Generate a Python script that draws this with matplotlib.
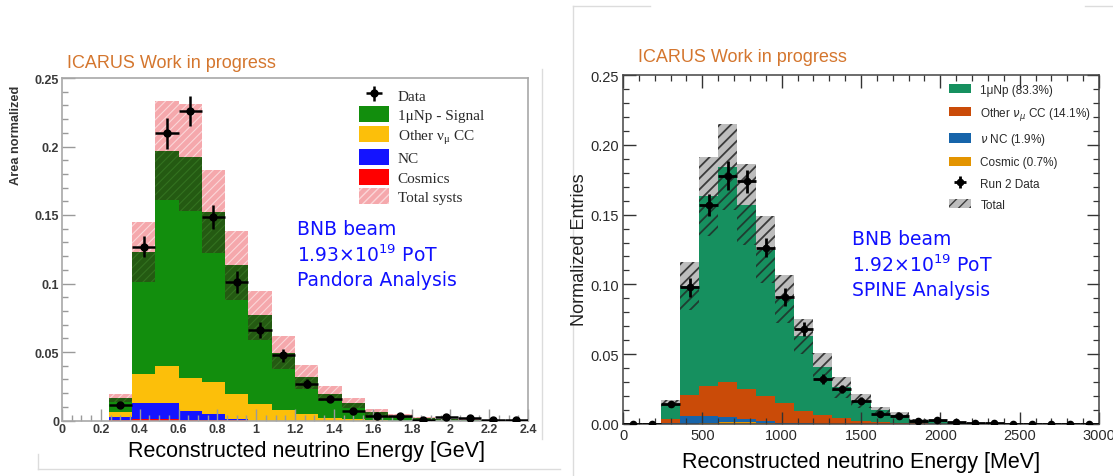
import numpy as np
import matplotlib
matplotlib.use("Agg")
import matplotlib.pyplot as plt
from matplotlib.patches import Patch
from matplotlib.lines import Line2D
from matplotlib.ticker import MultipleLocator, FixedLocator

# ---------------- data: left panel (Pandora, GeV) ----------------
edges_L = np.round(np.arange(0, 2.41, 0.12), 2)
cosmic_L = [0, 0, 0.0003, 0.0008, 0.0010, 0.0006, 0.0004, 0.0003, 0, 0,
            0, 0, 0, 0, 0, 0, 0, 0, 0, 0]
nc_L = [0, 0, 0.0024, 0.0122, 0.0120, 0.0062, 0.0040, 0.0009, 0, 0,
        0, 0, 0, 0, 0, 0, 0, 0, 0, 0]
othercc_L = [0, 0, 0.0033, 0.0206, 0.0267, 0.0244, 0.0236, 0.0178, 0.0117, 0.0073,
             0.0044, 0.0020, 0.0010, 0.0005, 0, 0, 0, 0, 0, 0]
signal_L = [0, 0, 0.0106, 0.0894, 0.1573, 0.1608, 0.1245, 0.0943, 0.0651, 0.0422,
            0.0273, 0.0175, 0.0120, 0.0055, 0.0030, 0.0017, 0.0008, 0.0005, 0.0002, 0.0001]
syst_L = [0, 0, 0.0030, 0.0220, 0.0360, 0.0390, 0.0300, 0.0250, 0.0180, 0.0120,
          0.0088, 0.0055, 0.0037, 0.0025, 0.0014, 0.0007, 0.0004, 0.0003, 0.0001, 0.0001]
data_L = [np.nan, np.nan, 0.011, 0.127, 0.2095, 0.226, 0.1486, 0.1014, 0.066, 0.0475,
          0.027, 0.016, 0.0068, 0.003, 0.003, 0.0005, 0.0027, 0.0015, 0.0003, 0.0002]
dataerr_L = [0, 0, 0.002, 0.008, 0.011, 0.0112, 0.0085, 0.008, 0.006, 0.005,
             0.003, 0.0025, 0.002, 0.0012, 0.0012, 0.0008, 0.001, 0.0008, 0.0005, 0.0005]
xticks_L = [0, 0.2, 0.4, 0.6, 0.8, 1.0, 1.2, 1.4, 1.6, 1.8, 2.0, 2.2, 2.4]
xticklabels_L = ["0", "0.2", "0.4", "0.6", "0.8", "1", "1.2", "1.4", "1.6", "1.8", "2", "2.2", "2.4"]
yticks_L = [0, 0.05, 0.1, 0.15, 0.2, 0.25]
yticklabels_L = ["0", "0.05", "0.1", "0.15", "0.2", "0.25"]

# ---------------- data: right panel (SPINE, MeV) ----------------
edges_R = np.arange(0, 3001, 120)
cosmic_R = [0, 0, 0.0002, 0, 0.0005, 0.0015, 0.0012, 0.0005, 0, 0,
            0, 0, 0, 0, 0, 0, 0, 0, 0, 0, 0, 0, 0, 0, 0]
nc_R = [0, 0, 0.0008, 0.0060, 0.0055, 0.0037, 0.0024, 0.0019, 0.0010, 0.0005,
        0.0003, 0, 0, 0, 0, 0, 0, 0, 0, 0, 0, 0, 0, 0, 0]
othercc_R = [0, 0, 0.0026, 0.0147, 0.0213, 0.0252, 0.0218, 0.0173, 0.0140, 0.0090,
             0.0064, 0.0041, 0.0024, 0.0015, 0.0010, 0.0005, 0, 0, 0, 0, 0, 0, 0, 0, 0]
signal_R = [0, 0, 0.0107, 0.0783, 0.1357, 0.1536, 0.1316, 0.1053, 0.0747, 0.0535,
            0.0343, 0.0222, 0.0144, 0.0085, 0.0055, 0.0025, 0.0022, 0.0012, 0.0005, 0.0003,
            0.0001, 0.0001, 0.0001, 0.0001, 0.0001]
syst_R = [0, 0, 0.0030, 0.0170, 0.0280, 0.0310, 0.0290, 0.0240, 0.0173, 0.0125,
          0.0102, 0.0075, 0.0050, 0.0024, 0.0018, 0.0008, 0.0006, 0.0004, 0.0002, 0.0001,
          0, 0, 0, 0, 0]
data_R = [0, 0, 0.0143, 0.098, 0.157, 0.178, 0.174, 0.1264, 0.0908, 0.068,
          0.0325, 0.025, 0.0166, 0.0071, 0.0059, 0.0024, 0.0029, 0.0017, 0.0007, 0.0004,
          0.0003, 0.0002, 0.0002, 0.0002, 0.0001]
dataerr_R = [0, 0, 0.002, 0.0068, 0.0077, 0.0107, 0.0083, 0.0069, 0.0065, 0.005,
             0.0035, 0.003, 0.0025, 0.0016, 0.0015, 0.001, 0.001, 0.0008, 0.0005, 0.0003,
             0.0002, 0.0002, 0.0002, 0.0002, 0.0001]
xticks_R = [0, 500, 1000, 1500, 2000, 2500, 3000]
yticks_R = [0, 0.05, 0.10, 0.15, 0.20, 0.25]
yticklabels_R = ["0.00", "0.05", "0.10", "0.15", "0.20", "0.25"]

# ---------------- figure ----------------
W, H = 1113, 477
fig = plt.figure(figsize=(W / 100, H / 100), dpi=100)
fig.patch.set_facecolor("white")

axL = fig.add_axes([62 / W, 1 - 421.5 / H, 466 / W, (421.5 - 79) / H])
axR = fig.add_axes([623 / W, 1 - 425 / H, 476 / W, (425 - 76) / H])


def stack(ax, edges, comps, colors):
    left = edges[:-1]
    width = np.diff(edges)
    bottom = np.zeros(len(left))
    for vals, col in zip(comps, colors):
        vals = np.asarray(vals, float)
        ax.bar(left, vals, width=width, bottom=bottom, align="edge",
               color=col, linewidth=0)
        bottom = bottom + vals
    return bottom


def band(ax, edges, total, err, up_face, up_hatch, lo_face, lo_hatch, hatch, hlw):
    left = edges[:-1]
    width = np.diff(edges)
    err = np.asarray(err, float)
    with plt.rc_context({"hatch.linewidth": hlw}):
        b1 = ax.bar(left, err, width=width, bottom=total - err, align="edge",
                    facecolor=lo_face, edgecolor=lo_hatch, hatch=hatch, linewidth=0)
        b2 = ax.bar(left, err, width=width, bottom=total, align="edge",
                    facecolor=up_face, edgecolor=up_hatch, hatch=hatch, linewidth=0)
    for b in list(b1) + list(b2):
        if hasattr(b, "set_hatch_linewidth"):
            b.set_hatch_linewidth(hlw)


# ---- left panel ----
colL = {"cos": "#ff0000", "nc": "#1414ff", "occ": "#fcbf0a", "sig": "#128e0d",
        "pink": "#f5a8ac", "pinkh": "#fbd6d8", "dk": "#245a12", "dkh": "#33721f"}
totL = stack(axL, edges_L, [cosmic_L, nc_L, othercc_L, signal_L],
             [colL["cos"], colL["nc"], colL["occ"], colL["sig"]])
band(axL, edges_L, totL, syst_L, colL["pink"], colL["pinkh"], colL["dk"], colL["dkh"], "////", 0.8)
cL = 0.5 * (edges_L[:-1] + edges_L[1:])
ebL = axL.errorbar(cL, data_L, xerr=0.06, yerr=dataerr_L, fmt="o", color="black",
                   ms=5, elinewidth=1.8, capsize=0, zorder=5)

axL.set_xlim(0, 2.4)
axL.set_ylim(0, 0.25)
axL.xaxis.set_major_locator(FixedLocator(xticks_L))
axL.set_xticklabels(xticklabels_L)
axL.xaxis.set_minor_locator(MultipleLocator(0.05))
axL.yaxis.set_major_locator(FixedLocator(yticks_L))
axL.set_yticklabels(yticklabels_L)
axL.yaxis.set_minor_locator(MultipleLocator(0.01))
axL.tick_params(which="both", direction="in", top=False, right=False, color="#9a9a9a")
axL.tick_params(which="major", length=9, width=1)
axL.tick_params(which="minor", length=4.5, width=1)
axL.tick_params(axis="both", labelsize=9, labelcolor="#3a3a3a", pad=2)
for lab in axL.get_xticklabels() + axL.get_yticklabels():
    lab.set_fontweight("bold")
    lab.set_family("Liberation Sans")
for s in axL.spines.values():
    s.set_color("#a8a8a8")
    s.set_linewidth(1.2)

hL = [ebL,
      Patch(facecolor=colL["sig"], linewidth=0),
      Patch(facecolor=colL["occ"], linewidth=0),
      Patch(facecolor=colL["nc"], linewidth=0),
      Patch(facecolor=colL["cos"], linewidth=0),
      Patch(facecolor=colL["pink"], edgecolor=colL["pinkh"], hatch="////", linewidth=0)]
lL = ["Data", "1\u03bcNp - Signal", "Other \u03bd$_\\mathregular{\u03bc}$ CC", "NC", "Cosmics", "Total systs"]
legL = axL.legend(hL, lL, loc="upper left", bbox_to_anchor=(0.637, 0.975), frameon=False,
                  prop={"family": "Liberation Serif", "size": 11}, handlelength=2.0,
                  handleheight=1.25, labelspacing=0.22, handletextpad=0.55,
                  borderpad=0, borderaxespad=0)
for t in legL.get_texts():
    t.set_color("#2a2a2a")

fig.text(16 / W, 1 - 86 / H, "Area normalized", rotation=90, ha="center", va="top",
         fontsize=9.2, family="Liberation Sans", color="#333333", fontweight="bold")
fig.text(67 / W, 1 - 63 / H, "ICARUS Work in progress", ha="left", va="center",
         fontsize=13, family="Liberation Sans", color="#d4762e")
fig.text(306 / W, 1 - 452 / H, "Reconstructed neutrino Energy [GeV]",
         ha="center", va="center", fontsize=15.5, family="Liberation Sans", color="black")
for i, s in enumerate(["BNB beam", "1.93$\\times$10$^{19}$ PoT", "Pandora Analysis"]):
    fig.text(297 / W, 1 - (230 + 25.5 * i) / H, s, ha="left", va="center", fontsize=13.5,
             family="DejaVu Sans", color="#1010ff")

# ---- right panel ----
colR = {"cos": "#e39400", "nc": "#1664aa", "occ": "#ca4b08", "sig": "#16905f",
        "gray": "#bdbdbd", "grayh": "#3a3a3a", "lo": "none", "loh": "#1f3d31"}
totR = stack(axR, edges_R, [cosmic_R, nc_R, othercc_R, signal_R],
             [colR["cos"], colR["nc"], colR["occ"], colR["sig"]])
band(axR, edges_R, totR, syst_R, colR["gray"], colR["grayh"], colR["lo"], colR["loh"], "///", 1.3)
cR = 0.5 * (edges_R[:-1] + edges_R[1:])
ebR = axR.errorbar(cR, data_R, xerr=60, yerr=dataerr_R, fmt="o", color="black",
                   ms=4.5, elinewidth=2.0, capsize=0, zorder=5)

axR.set_xlim(0, 3000)
axR.set_ylim(0, 0.25)
axR.xaxis.set_major_locator(FixedLocator(xticks_R))
axR.xaxis.set_minor_locator(MultipleLocator(100))
axR.yaxis.set_major_locator(FixedLocator(yticks_R))
axR.set_yticklabels(yticklabels_R)
axR.yaxis.set_minor_locator(MultipleLocator(0.01))
axR.tick_params(which="both", direction="in", top=True, right=True, color="#333333")
axR.tick_params(which="major", length=9, width=1)
axR.tick_params(which="minor", length=4.5, width=0.9)
axR.tick_params(axis="both", labelsize=10.5, labelcolor="#2a2a2a", pad=3)
for lab in axR.get_xticklabels() + axR.get_yticklabels():
    lab.set_family("Liberation Sans")
for s in axR.spines.values():
    s.set_color("#444444")
    s.set_linewidth(1.1)

hR = [Patch(facecolor=colR["sig"], linewidth=0),
      Patch(facecolor=colR["occ"], linewidth=0),
      Patch(facecolor=colR["nc"], linewidth=0),
      Patch(facecolor=colR["cos"], linewidth=0),
      ebR,
      Patch(facecolor=colR["gray"], edgecolor=colR["grayh"], hatch="///", linewidth=0)]
lR = ["1\u03bcNp (83.3%)", "Other $\\nu_\\mu$ CC (14.1%)", "$\\nu$ NC (1.9%)",
      "Cosmic (0.7%)", "Run 2 Data", "Total"]
legR = axR.legend(hR, lR, loc="upper left", bbox_to_anchor=(0.685, 0.975), frameon=False,
                  prop={"family": "Liberation Sans", "size": 8.5}, handlelength=1.9,
                  handleheight=0.85, labelspacing=0.78, handletextpad=0.75,
                  borderpad=0, borderaxespad=0)
for t in legR.get_texts():
    t.set_color("#2a2a2a")

fig.text(580 / W, 1 - 250 / H, "Normalized Entries", rotation=90, ha="center", va="center",
         fontsize=13, family="Liberation Sans", color="#222222")
fig.text(638 / W, 1 - 58 / H, "ICARUS Work in progress", ha="left", va="center",
         fontsize=13, family="Liberation Sans", color="#d4762e")
fig.text(861 / W, 1 - 463 / H, "Reconstructed neutrino Energy [MeV]",
         ha="center", va="center", fontsize=15.5, family="Liberation Sans", color="black")
for i, s in enumerate(["BNB beam", "1.92$\\times$10$^{19}$ PoT", "SPINE Analysis"]):
    fig.text(852 / W, 1 - (240 + 25.5 * i) / H, s, ha="left", va="center", fontsize=13.5,
             family="DejaVu Sans", color="#1010ff")

# ---- faint frame lines of the original slide ----
def fl(x0, y0, x1, y1):
    fig.add_artist(Line2D([x0 / W, x1 / W], [1 - y0 / H, 1 - y1 / H],
                          color="#dcdcdc", lw=1, transform=fig.transFigure))

fl(38, 470, 560, 470)
fl(38, 455, 38, 470)
fl(542, 70, 542, 440)
fl(573, 7, 573, 477)
fl(573, 7, 650, 7)
fl(1085, 7, 1113, 7)

fig.savefig("out.png", dpi=100)
